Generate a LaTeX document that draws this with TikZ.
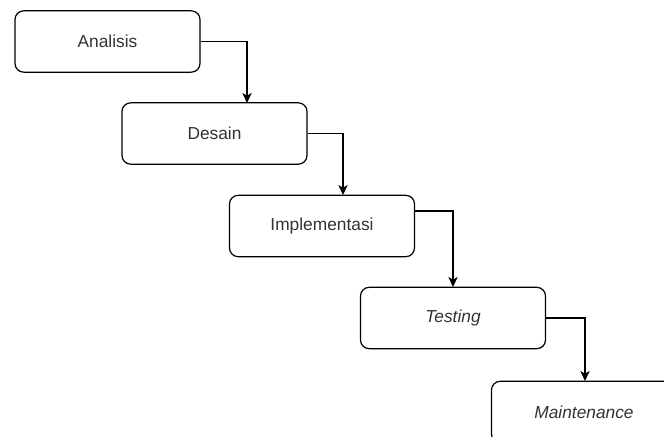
\documentclass[tikz,border=0pt]{standalone}
\usepackage{fontspec}
\setmainfont{Liberation Sans}
\usetikzlibrary{arrows.meta}
\definecolor{txt}{HTML}{333333}
\definecolor{ln}{HTML}{000000}
\tikzset{
  stage/.style={draw=ln, line width=0.9pt, rounded corners=6.5pt, minimum width=138.75pt, minimum height=46pt, inner sep=0pt, text=txt, font=\fontsize{13pt}{15pt}\selectfont},
  arr/.style={draw=ln, line width=0.9pt, -{Stealth[length=7.5pt,width=7pt,inset=2pt]}}
}
\begin{document}
\begin{tikzpicture}[x=0.75pt,y=-0.75pt]
\useasboundingbox (0,0) rectangle (664,436);
\clip (0,0) rectangle (664,436);
\node[stage] (a) at (107.5,41.5) {Analisis};
\node[stage] (b) at (214.5,133.5) {Desain};
\node[stage] (c) at (322,226) {Implementasi};
\node[stage] (d) at (453,318) {\itshape Testing};
\node[stage] (e) at (584,412) {\itshape Maintenance};
\coordinate (b-in) at (247,103);
\coordinate (c-in) at (343,195);
\coordinate (c-out) at (415,211);
\coordinate (d-in) at (453,287);
\coordinate (e-in) at (585,381);
\draw[arr] (a.east) -| (b-in);
\draw[arr] (b.east) -| (c-in);
\draw[arr] (c-out) -| (d-in);
\draw[arr] (d.east) -| (e-in);
\end{tikzpicture}
\end{document}
